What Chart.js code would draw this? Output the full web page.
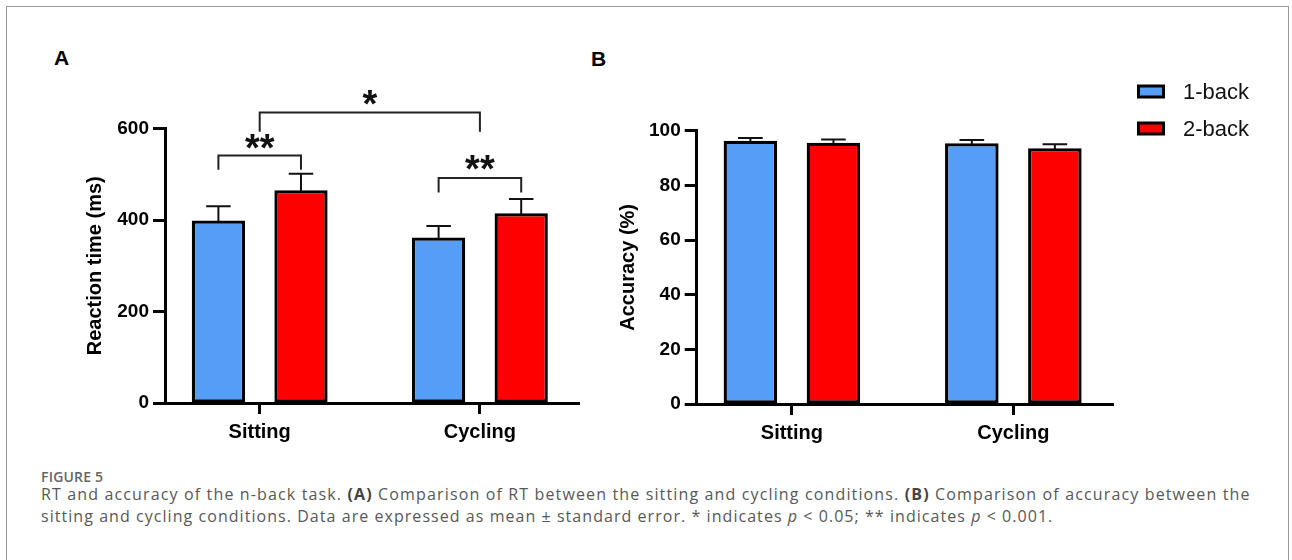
<!DOCTYPE html>
<html>
<head>
<meta charset="utf-8">
<script src="https://cdn.jsdelivr.net/npm/chart.js@4/dist/chart.umd.min.js"></script>
<style>
html,body{margin:0;padding:0;background:#fff;width:1292px;height:560px;overflow:hidden;}
#frame{position:absolute;left:6px;top:6px;width:1281px;height:620px;border:1.5px solid #999;border-bottom:none;}
#wrapA{position:absolute;left:0;top:0;width:580px;height:450px;}
#wrapB{position:absolute;left:580px;top:0;width:712px;height:450px;}
.letter{position:absolute;font-family:'Liberation Sans',Arial,sans-serif;font-weight:bold;font-size:21px;line-height:21px;color:#000;}
.cap{position:absolute;left:41px;font-family:'Open Sans',sans-serif;color:#585858;white-space:nowrap;}
#figno{top:469px;font-size:14px;line-height:16px;font-weight:600;color:#666;letter-spacing:0.2px;}
.line{font-size:16px;line-height:22px;letter-spacing:1.05px;}
.line b{font-weight:700;color:#444;}
#l1{letter-spacing:1.14px;}
</style>
</head>
<body>
<div id="frame"></div>
<div class="letter" style="left:54px;top:47px;">A</div>
<div class="letter" style="left:591px;top:48px;">B</div>
<div id="wrapA"><canvas id="chartA" width="580" height="450"></canvas></div>
<div id="wrapB"><canvas id="chartB" width="712" height="450"></canvas></div>
<div class="cap" id="figno">FIGURE 5</div>
<div class="cap line" id="l1" style="top:483px;">RT and accuracy of the n-back task. <b>(A)</b> Comparison of RT between the sitting and cycling conditions. <b>(B)</b> Comparison of accuracy between the</div>
<div class="cap line" style="top:505px;">sitting and cycling conditions. Data are expressed as mean ± standard error. * indicates <i>p</i> &lt; 0.05; ** indicates <i>p</i> &lt; 0.001.</div>
<script>
// ---- data ----
const categories = ['Sitting', 'Cycling'];
const categoryPos = [0, 1];
const seriesNames = ['1-back', '2-back'];
const seriesColors = ['#559df7', '#ff0000'];

const rtOneBack = [399, 362];
const rtOneBackSE = [31, 25];
const rtTwoBack = [465, 415];
const rtTwoBackSE = [36, 31];

const accOneBack = [96.3, 95.4];
const accOneBackSE = [1.0, 1.2];
const accTwoBack = [95.6, 93.6];
const accTwoBackSE = [1.2, 1.4];

const rtTicks = [0, 200, 400, 600];
const accTicks = [0, 20, 40, 60, 80, 100];

// significance brackets for panel A (values in ms)
const sigLabels = ['**', '**', '*'];
const sigLevels = [541, 492, 635];
const sigDrops = [510, 460, 593];
const sigLabelLevels = [577, 531, 673];

// ---- helpers ----
const FONT = "'Liberation Sans', Arial, Helvetica, sans-serif";

function makeDatasets(vals, errs) {
  return seriesNames.map((name, s) => ({
    label: name,
    data: categoryPos.map((x, i) => ({ x: x, y: vals[s][i] })),
    errors: errs[s],
    backgroundColor: seriesColors[s],
    borderColor: '#000',
    borderWidth: 3.3,
    borderSkipped: false,
    categoryPercentage: 0.75,
    barPercentage: 0.645
  }));
}

const errorBarPlugin = {
  id: 'errorBars',
  afterDatasetsDraw(chart) {
    const ctx = chart.ctx;
    const yScale = chart.scales.y;
    ctx.save();
    ctx.strokeStyle = '#111';
    ctx.lineWidth = 2;
    chart.data.datasets.forEach((ds, d) => {
      const meta = chart.getDatasetMeta(d);
      meta.data.forEach((el, i) => {
        const v = ds.data[i].y + ds.errors[i];
        const yTop = yScale.getPixelForValue(v);
        const half = el.width * 0.23;
        ctx.beginPath();
        ctx.moveTo(el.x, el.y + 1);
        ctx.lineTo(el.x, yTop);
        ctx.moveTo(el.x - half, yTop);
        ctx.lineTo(el.x + half, yTop);
        ctx.stroke();
      });
    });
    ctx.restore();
  }
};

function yAxis(ticks, max, title, titlePad, width) {
  return {
    min: 0, max: max,
    afterBuildTicks: s => { s.ticks = ticks.map(v => ({ value: v })); },
    ticks: { font: { family: FONT, size: 19, weight: 'bold' }, color: '#000', padding: 4 },
    grid: { display: true, drawOnChartArea: false, drawTicks: true, tickLength: 12, tickWidth: 3, tickColor: '#000' },
    border: { display: true, color: '#000', width: 3 },
    title: { display: true, text: title, color: '#000', font: { family: FONT, size: 20, weight: 'bold' }, padding: { top: titlePad, bottom: 0 } },
    afterFit: s => { s.width = width; }
  };
}

function xAxis(height) {
  return {
    type: 'linear', min: -0.43, max: 1.45, offset: false,
    afterBuildTicks: s => { s.ticks = categoryPos.map(v => ({ value: v })); },
    ticks: { callback: v => categories[categoryPos.indexOf(v)], font: { family: FONT, size: 20, weight: 'bold' }, color: '#000', padding: 6, autoSkip: false, maxRotation: 0 },
    grid: { display: true, offset: false, drawOnChartArea: false, drawTicks: true, tickLength: 11, tickWidth: 3, tickColor: '#000' },
    border: { display: true, color: '#000', width: 3 },
    afterFit: s => { s.height = height; }
  };
}

// ---- Panel A ----
const bracketPlugin = {
  id: 'brackets',
  afterDraw(chart) {
    const ctx = chart.ctx;
    const y = chart.scales.y, x = chart.scales.x;
    const m0 = chart.getDatasetMeta(0).data, m1 = chart.getDatasetMeta(1).data;
    const spans = [
      [m0[0].x, m1[0].x],
      [m0[1].x, m1[1].x],
      [x.getPixelForValue(categoryPos[0]), x.getPixelForValue(categoryPos[1])]
    ];
    ctx.save();
    ctx.strokeStyle = '#222';
    ctx.lineWidth = 2;
    ctx.fillStyle = '#111';
    ctx.font = 'bold 38px ' + FONT;
    ctx.textAlign = 'center';
    ctx.textBaseline = 'alphabetic';
    spans.forEach((sp, k) => {
      const yl = y.getPixelForValue(sigLevels[k]);
      const yd = y.getPixelForValue(sigDrops[k]);
      ctx.beginPath();
      ctx.moveTo(sp[0], yd);
      ctx.lineTo(sp[0], yl);
      ctx.lineTo(sp[1], yl);
      ctx.lineTo(sp[1], yd);
      ctx.stroke();
      const ly = y.getPixelForValue(sigLabelLevels[k]);
      ctx.fillText(sigLabels[k], (sp[0] + sp[1]) / 2, ly + 22);
    });
    ctx.restore();
  }
};

new Chart(document.getElementById('chartA'), {
  type: 'bar',
  data: { datasets: makeDatasets([rtOneBack, rtTwoBack], [rtOneBackSE, rtTwoBackSE]) },
  options: {
    responsive: false, animation: false,
    layout: { padding: { left: 0, top: 128.5, right: 1, bottom: 0 } },
    plugins: { legend: { display: false }, tooltip: { enabled: false } },
    scales: { x: xAxis(47), y: yAxis(rtTicks, 600, 'Reaction time (ms)', 83, 165) }
  },
  plugins: [errorBarPlugin, bracketPlugin]
});

// ---- Panel B ----
const legendPlugin = {
  id: 'sideLegend',
  afterDraw(chart) {
    const ctx = chart.ctx;
    ctx.save();
    chart.data.datasets.forEach((ds, s) => {
      const bx = 557, by = 84.5 + s * 37;
      ctx.fillStyle = '#000';
      ctx.fillRect(bx, by, 28, 14);
      ctx.fillStyle = ds.backgroundColor;
      ctx.fillRect(bx + 3, by + 3, 22, 8);
      ctx.fillStyle = '#111';
      ctx.font = '22px ' + FONT;
      ctx.textAlign = 'left';
      ctx.textBaseline = 'middle';
      ctx.fillText(ds.label, 603, by + 8);
    });
    ctx.restore();
  }
};

new Chart(document.getElementById('chartB'), {
  type: 'bar',
  data: { datasets: makeDatasets([accOneBack, accTwoBack], [accOneBackSE, accTwoBackSE]) },
  options: {
    responsive: false, animation: false,
    layout: { padding: { left: 0, top: 130.7, right: 179, bottom: 0 } },
    plugins: { legend: { display: false }, tooltip: { enabled: false } },
    scales: { x: xAxis(46), y: yAxis(accTicks, 100, 'Accuracy (%)', 36, 116.7) }
  },
  plugins: [errorBarPlugin, legendPlugin]
});
</script>
</body>
</html>
